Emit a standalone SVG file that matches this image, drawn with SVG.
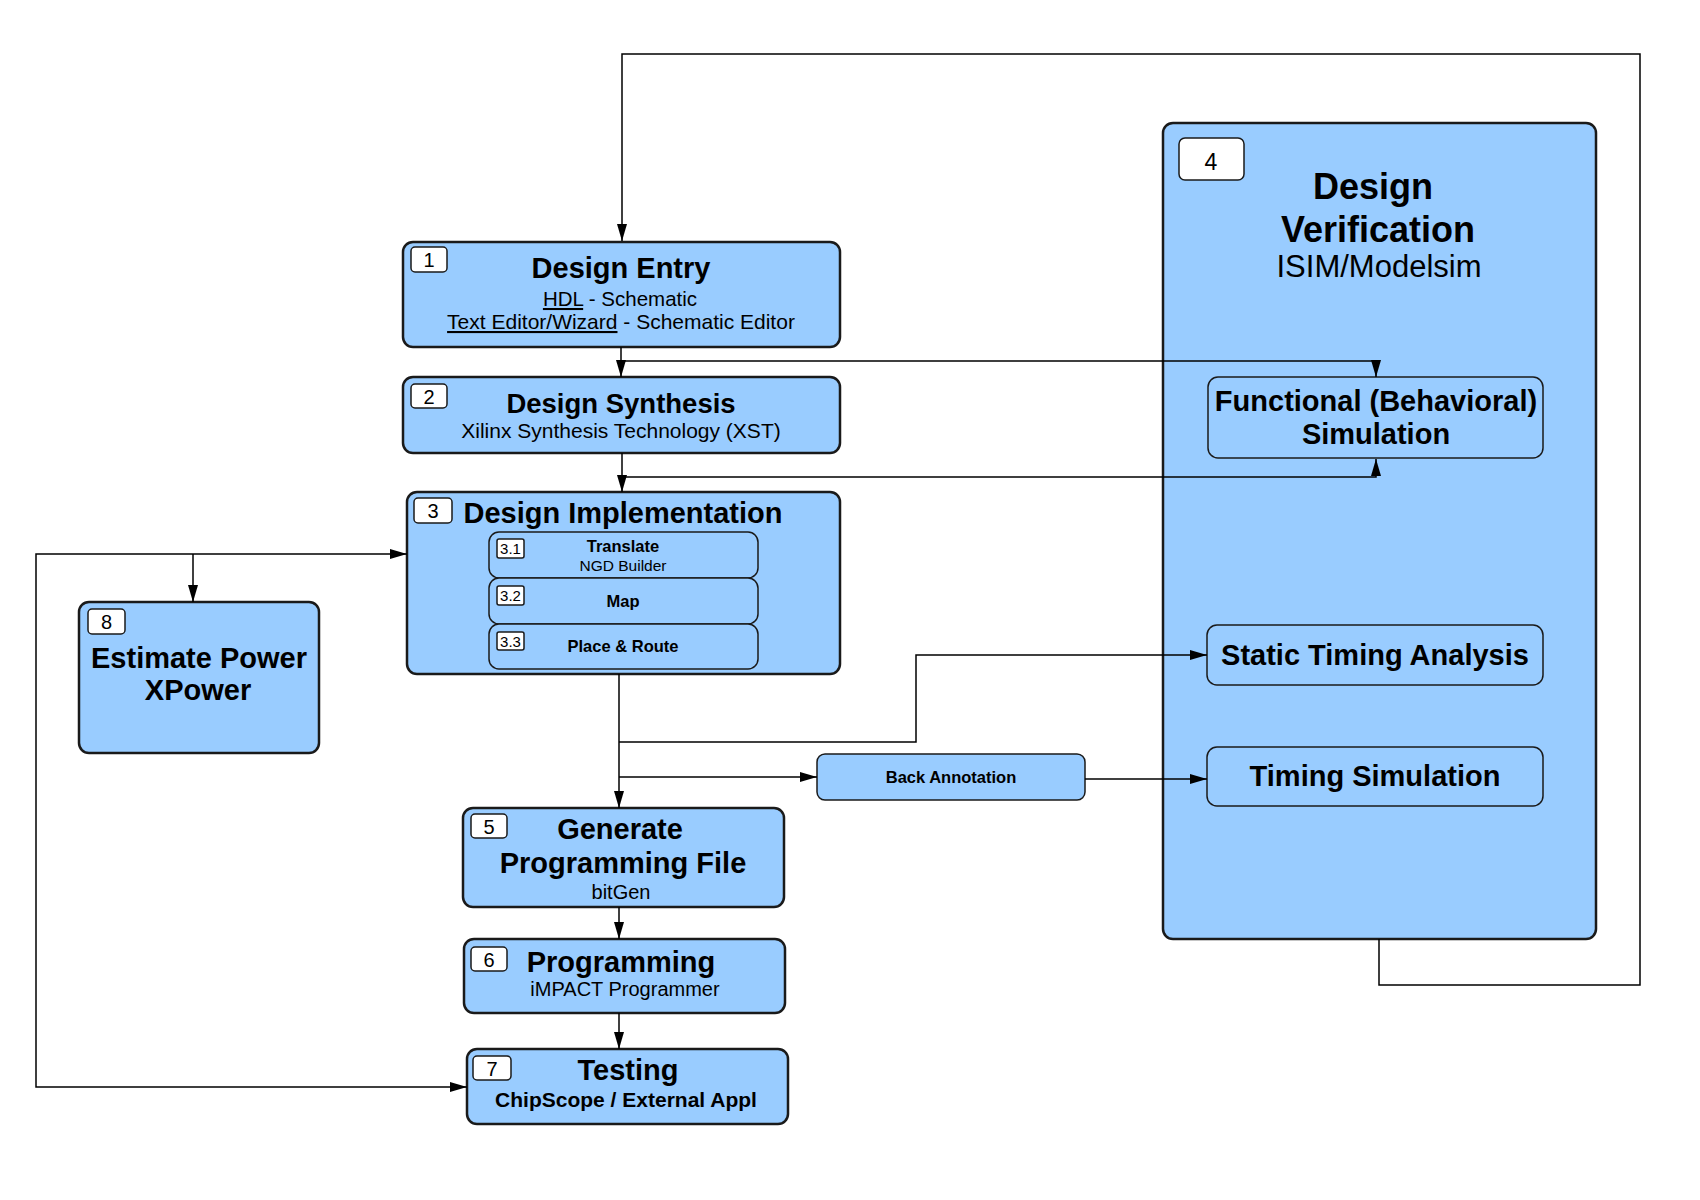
<svg xmlns="http://www.w3.org/2000/svg" width="1700" height="1200" viewBox="0 0 1700 1200">
<style>
  .box { fill: #99ccff; stroke: #1a1a1a; stroke-width: 2.5; }
  .inner { fill: #99ccff; stroke: #1a1a1a; stroke-width: 1.5; }
  .num { fill: #ffffff; stroke: #1a1a1a; stroke-width: 1.5; }
  text { font-family: "Liberation Sans", Arial, sans-serif; fill: #000; }
  .t { font-size: 29px; font-weight: bold; text-anchor: middle; }
  .s { font-size: 20px; text-anchor: middle; }
  .n { font-size: 20px; text-anchor: middle; }
  .sn { font-size: 15px; text-anchor: middle; }
  .sb { font-size: 16.5px; font-weight: bold; text-anchor: middle; }
  .conn { fill: none; stroke: #000; stroke-width: 1.5; }
  .u { text-decoration: underline; }
</style>
<defs>
  <marker id="arr" markerUnits="userSpaceOnUse" markerWidth="18" markerHeight="12" refX="17" refY="5" orient="auto-start-reverse">
    <path d="M0,0 L17,5 L0,10 z" fill="#000"/>
  </marker>
</defs>
<rect width="1700" height="1200" fill="#ffffff"/>

<g id="node-design-verification">
  <rect class="box" x="1163" y="123" width="433" height="816" rx="10"/>
  <rect class="num" x="1179" y="138" width="65" height="42" rx="6"/>
  <text class="n" x="1211" y="170" style="font-size:23px">4</text>
  <text class="t" x="1373" y="199" style="font-size:36px">Design</text>
  <text class="t" x="1378" y="242" style="font-size:36px">Verification</text>
  <text class="s" x="1379" y="277" style="font-size:31px">ISIM/Modelsim</text>
</g>

<g id="node-functional-sim">
  <rect class="inner" x="1208" y="377" width="335" height="81" rx="10"/>
  <text class="t" x="1376" y="411">Functional (Behavioral)</text>
  <text class="t" x="1376" y="444">Simulation</text>
</g>

<g id="node-static-timing">
  <rect class="inner" x="1207" y="625" width="336" height="60" rx="10"/>
  <text class="t" x="1375" y="665">Static Timing Analysis</text>
</g>

<g id="node-timing-sim">
  <rect class="inner" x="1207" y="747" width="336" height="59" rx="10"/>
  <text class="t" x="1375" y="786">Timing Simulation</text>
</g>

<g id="node-design-entry">
  <rect class="box" x="403" y="242" width="437" height="105" rx="10"/>
  <rect class="num" x="411" y="247" width="36" height="25" rx="4"/>
  <text class="n" x="429" y="267">1</text>
  <text class="t" x="621" y="278">Design Entry</text>
  <text class="s" x="620" y="306" style="font-size:20.5px"><tspan class="u">HDL</tspan> - Schematic</text>
  <text class="s" x="621" y="329" style="font-size:21px"><tspan class="u">Text Editor/Wizard</tspan> - Schematic Editor</text>
</g>

<g id="node-design-synthesis">
  <rect class="box" x="403" y="377" width="437" height="76" rx="10"/>
  <rect class="num" x="411" y="384" width="36" height="24" rx="4"/>
  <text class="n" x="429" y="404">2</text>
  <text class="t" x="621" y="413" style="font-size:27.5px">Design Synthesis</text>
  <text class="s" x="621" y="438" style="font-size:21px">Xilinx Synthesis Technology (XST)</text>
</g>

<g id="node-design-implementation">
  <rect class="box" x="407" y="492" width="433" height="182" rx="10"/>
  <rect class="num" x="414" y="498" width="38" height="25" rx="4"/>
  <text class="n" x="433" y="518">3</text>
  <text class="t" x="623" y="523">Design Implementation</text>
  <g id="node-translate">
    <rect class="inner" x="489" y="532" width="269" height="46" rx="10"/>
    <rect class="num" x="497" y="539" width="27" height="19" rx="2"/>
    <text class="sn" x="510.5" y="554">3.1</text>
    <text class="sb" x="623" y="552">Translate</text>
    <text class="s" x="623" y="571" style="font-size:15.5px">NGD Builder</text>
  </g>
  <g id="node-map">
    <rect class="inner" x="489" y="578" width="269" height="46" rx="10"/>
    <rect class="num" x="497" y="586" width="27" height="19" rx="2"/>
    <text class="sn" x="510.5" y="601">3.2</text>
    <text class="sb" x="623" y="607">Map</text>
  </g>
  <g id="node-place-route">
    <rect class="inner" x="489" y="624" width="269" height="45" rx="10"/>
    <rect class="num" x="497" y="632" width="27" height="18" rx="2"/>
    <text class="sn" x="510.5" y="647">3.3</text>
    <text class="sb" x="623" y="652">Place &amp; Route</text>
  </g>
</g>

<g id="node-estimate-power">
  <rect class="box" x="79" y="602" width="240" height="151" rx="10"/>
  <rect class="num" x="88" y="609" width="37" height="25" rx="4"/>
  <text class="n" x="106.5" y="629">8</text>
  <text class="t" x="199" y="668">Estimate Power</text>
  <text class="t" x="198" y="700">XPower</text>
</g>

<g id="node-back-annotation">
  <rect class="inner" x="817" y="754" width="268" height="46" rx="8"/>
  <text class="sb" x="951" y="783">Back Annotation</text>
</g>

<g id="node-generate-programming-file">
  <rect class="box" x="463" y="808" width="321" height="99" rx="10"/>
  <rect class="num" x="471" y="814" width="36" height="24" rx="4"/>
  <text class="n" x="489" y="834">5</text>
  <text class="t" x="620" y="839">Generate</text>
  <text class="t" x="623" y="873">Programming File</text>
  <text class="s" x="621" y="899">bitGen</text>
</g>

<g id="node-programming">
  <rect class="box" x="464" y="939" width="321" height="74" rx="10"/>
  <rect class="num" x="471" y="947" width="36" height="24" rx="4"/>
  <text class="n" x="489" y="967">6</text>
  <text class="t" x="621" y="972">Programming</text>
  <text class="s" x="625" y="996">iMPACT Programmer</text>
</g>

<g id="node-testing">
  <rect class="box" x="467" y="1049" width="321" height="75" rx="10"/>
  <rect class="num" x="473" y="1056" width="38" height="24" rx="4"/>
  <text class="n" x="492" y="1076">7</text>
  <text class="t" x="628" y="1080">Testing</text>
  <text class="t" x="626" y="1107" style="font-size:21px">ChipScope / External Appl</text>
</g>

<g id="connectors">
  <path class="conn" d="M1379 939 V985 H1640 V54 H622 V241" marker-end="url(#arr)"/>
  <path class="conn" d="M621 347 V377" marker-end="url(#arr)"/>
  <path class="conn" d="M621 361 H1376 V377" marker-end="url(#arr)"/>
  <path class="conn" d="M622 453 V492" marker-end="url(#arr)"/>
  <path class="conn" d="M622 477 H1376 V459" marker-end="url(#arr)"/>
  <path class="conn" d="M619 674 V808" marker-end="url(#arr)"/>
  <path class="conn" d="M619 742 H916 V655 H1207" marker-end="url(#arr)"/>
  <path class="conn" d="M619 777 H817" marker-end="url(#arr)"/>
  <path class="conn" d="M1085 779 H1207" marker-end="url(#arr)"/>
  <path class="conn" d="M619 907 V939" marker-end="url(#arr)"/>
  <path class="conn" d="M619 1013 V1049" marker-end="url(#arr)"/>
  <path class="conn" d="M407 554 H36 V1087 H467" marker-start="url(#arr)" marker-end="url(#arr)"/>
  <path class="conn" d="M193 554 V602" marker-end="url(#arr)"/>
</g>
</svg>
